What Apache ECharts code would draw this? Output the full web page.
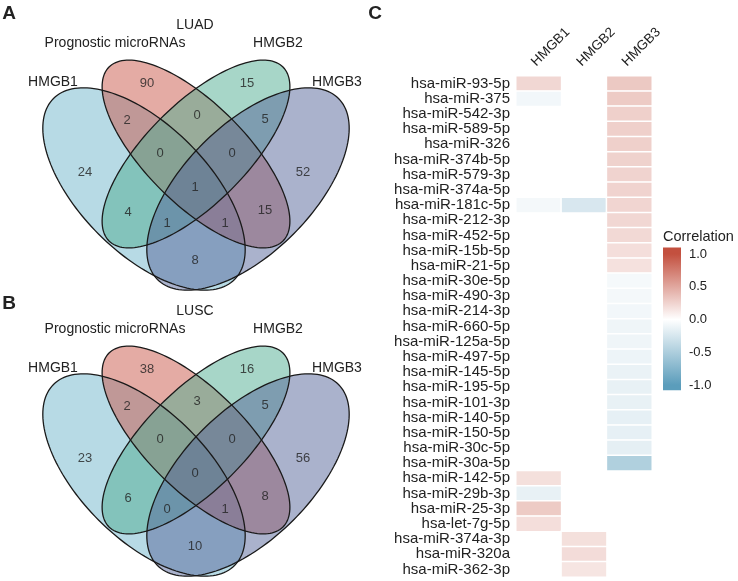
<!DOCTYPE html>
<html>
<head>
<meta charset="utf-8">
<script src="https://cdn.jsdelivr.net/npm/echarts@6/dist/echarts.min.js"></script>
<style>
  html, body { margin: 0; padding: 0; background: #fff; }
  #main { width: 738px; height: 581px; }
</style>
</head>
<body>
<div id="main"></div>
<script>
// Venn counts, region order:
// H1 only, miR only, H2 only, H3 only, H1&miR, miR&H2, H2&H3, H1&miR&H2, miR&H2&H3,
// all four, H1&H2, miR&H3, H1&H2&H3, H1&miR&H3, H1&H3
const luadCounts = [24, 90, 15, 52, 2, 0, 5, 0, 0, 1, 4, 15, 1, 1, 8];
const luscCounts = [23, 38, 16, 56, 2, 3, 5, 0, 0, 0, 6, 8, 0, 1, 10];

// heatmap
const genes = ['HMGB1', 'HMGB2', 'HMGB3'];
const mirnas = [
  'hsa-miR-93-5p', 'hsa-miR-375', 'hsa-miR-542-3p', 'hsa-miR-589-5p', 'hsa-miR-326',
  'hsa-miR-374b-5p', 'hsa-miR-579-3p', 'hsa-miR-374a-5p', 'hsa-miR-181c-5p', 'hsa-miR-212-3p',
  'hsa-miR-452-5p', 'hsa-miR-15b-5p', 'hsa-miR-21-5p', 'hsa-miR-30e-5p', 'hsa-miR-490-3p',
  'hsa-miR-214-3p', 'hsa-miR-660-5p', 'hsa-miR-125a-5p', 'hsa-miR-497-5p', 'hsa-miR-145-5p',
  'hsa-miR-195-5p', 'hsa-miR-101-3p', 'hsa-miR-140-5p', 'hsa-miR-150-5p', 'hsa-miR-30c-5p',
  'hsa-miR-30a-5p', 'hsa-miR-142-5p', 'hsa-miR-29b-3p', 'hsa-miR-25-3p', 'hsa-let-7g-5p',
  'hsa-miR-374a-3p', 'hsa-miR-320a', 'hsa-miR-362-3p'
];
const hmgb1Vals = [0.23, -0.08, null, null, null, null, null, null, -0.07, null,
  null, null, null, null, null, null, null, null, null, null,
  null, null, null, null, null, null, 0.18, -0.14, 0.30, 0.19,
  null, null, null];
const hmgb2Vals = [null, null, null, null, null, null, null, null, -0.24, null,
  null, null, null, null, null, null, null, null, null, null,
  null, null, null, null, null, null, null, null, null, null,
  0.18, 0.20, 0.15];
const hmgb3Vals = [0.31, 0.30, 0.27, 0.27, 0.27, 0.26, 0.25, 0.25, 0.24, 0.23,
  0.22, 0.19, 0.17, -0.06, -0.07, -0.08, -0.10, -0.10, -0.11, -0.13,
  -0.14, -0.14, -0.15, -0.15, -0.16, -0.48, null, null, null, null,
  null, null, null];
const legendTicks = [-1, -0.5, 0, 0.5, 1];

// layout (pixel coords inside a venn panel)
const regionPos = [[85, 172], [147, 83], [247, 83], [303, 172], [127, 120], [197, 115], [265, 119],
  [160, 153], [232, 153], [195, 187], [128, 212], [265, 210], [167, 223], [225, 223], [195, 260]];
const ellipses = [
  { cx: 144, cy: 189, a: 128, b: 64, ang: 45, color: '#6FB5CC' },
  { cx: 196, cy: 154, a: 123, b: 50, ang: 45, color: '#C9574A' },
  { cx: 196, cy: 154, a: 123, b: 50, ang: -45, color: '#4FAE92' },
  { cx: 248, cy: 189, a: 128, b: 64, ang: -45, color: '#56659A' }
];

const LOW = '#5B9DBB', MID = '#FFFFFF', HIGH = '#C3503F';
const FONT = '"Liberation Sans", Arial, sans-serif';
const TXT = '#222';

function ellipsePoly(e, api) {
  const pts = [];
  const th = e.ang * Math.PI / 180;
  for (let k = 0; k < 160; k++) {
    const t = 2 * Math.PI * k / 160;
    const u = e.a * Math.cos(t), v = e.b * Math.sin(t);
    pts.push(api.coord([e.cx + u * Math.cos(th) - v * Math.sin(th),
                        e.cy + u * Math.sin(th) + v * Math.cos(th)]));
  }
  return pts;
}

function vennSeries(idx, counts) {
  return [
    {
      type: 'custom', xAxisIndex: idx, yAxisIndex: idx, z: 1, silent: true,
      data: ellipses.map((e, i) => [i]),
      renderItem: (params, api) => {
        const e = ellipses[params.dataIndex];
        return { type: 'polygon', shape: { points: ellipsePoly(e, api) },
                 style: { fill: e.color, opacity: 0.5 } };
      }
    },
    {
      type: 'custom', xAxisIndex: idx, yAxisIndex: idx, z: 2, silent: true,
      data: ellipses.map((e, i) => [i]),
      renderItem: (params, api) => {
        const e = ellipses[params.dataIndex];
        return { type: 'polygon', shape: { points: ellipsePoly(e, api) },
                 style: { fill: 'none', stroke: '#1a1a1a', lineWidth: 1.3 } };
      }
    },
    {
      type: 'scatter', xAxisIndex: idx, yAxisIndex: idx, z: 3, silent: true,
      symbolSize: 1, itemStyle: { color: 'rgba(0,0,0,0)' },
      data: counts.map((c, i) => [regionPos[i][0], regionPos[i][1], c]),
      label: { show: true, position: 'inside', formatter: p => p.value[2],
               fontSize: 13, color: TXT, fontFamily: FONT }
    }
  ];
}

const heatData = [];
[hmgb1Vals, hmgb2Vals, hmgb3Vals].forEach((vals, j) => {
  vals.forEach((v, i) => { if (v !== null) heatData.push([j, i, v]); });
});

function txt(x, y, s, size, weight) {
  return { type: 'text', x: x, y: y, silent: true,
    style: { text: s, font: (weight || 'normal') + ' ' + size + 'px ' + FONT, fill: TXT,
             textAlign: 'center', textVerticalAlign: 'middle', align: 'center', verticalAlign: 'middle' } };
}
function setLabels(dy, title) {
  return [txt(195, 25 + dy, title, 14), txt(115, 43 + dy, 'Prognostic microRNAs', 14),
    txt(278, 43 + dy, 'HMGB2', 14), txt(53, 82 + dy, 'HMGB1', 14), txt(337, 82 + dy, 'HMGB3', 14)];
}

const vennAxisX = i => ({ gridIndex: i, type: 'value', min: 0, max: 390, show: false });
const vennAxisY = i => ({ gridIndex: i, type: 'value', min: 0, max: 290, inverse: true, show: false });

const chart = echarts.init(document.getElementById('main'), null, { renderer: 'canvas' });
chart.setOption({
  animation: false,
  textStyle: { fontFamily: FONT },
  grid: [
    { left: 0, top: 0, width: 390, height: 290 },
    { left: 0, top: 286, width: 390, height: 290 },
    { left: 516, top: 76, width: 136, height: 501 },
    { left: 663, top: 254, width: 18, height: 131 }
  ],
  xAxis: [
    vennAxisX(0), vennAxisX(1),
    { gridIndex: 2, type: 'category', data: genes, position: 'top',
      axisLine: { show: false }, axisTick: { show: false }, splitLine: { show: false },
      axisLabel: { interval: 0, rotate: -45, fontSize: 13.5, color: TXT, margin: 7,
                   align: 'left', verticalAlign: 'bottom' } },
    { gridIndex: 3, type: 'value', min: 0, max: 1, show: false }
  ],
  yAxis: [
    vennAxisY(0), vennAxisY(1),
    { gridIndex: 2, type: 'category', data: mirnas, inverse: true,
      axisLine: { show: false }, axisTick: { show: false }, splitLine: { show: false },
      axisLabel: { interval: 0, fontSize: 15, color: TXT, margin: 6 } },
    { gridIndex: 3, type: 'value', min: -1, max: 1, interval: 0.5, position: 'right',
      axisLine: { show: false }, splitLine: { show: false },
      axisTick: { show: true, inside: true, length: 4, lineStyle: { color: '#fff', width: 1 } },
      axisLabel: { fontSize: 13, color: TXT, margin: 8, formatter: v => v.toFixed(1) } },
    { gridIndex: 3, type: 'value', min: -1, max: 1, interval: 0.5, position: 'left',
      axisLine: { show: false }, splitLine: { show: false }, axisLabel: { show: false },
      axisTick: { show: true, inside: true, length: 4, lineStyle: { color: '#fff', width: 1 } } }
  ],
  visualMap: {
    type: 'continuous', show: false, min: -1, max: 1, seriesIndex: 6,
    inRange: { color: [LOW, MID, HIGH] }
  },
  graphic: [
    txt(9, 14, 'A', 19, 'bold'), txt(9, 304, 'B', 19, 'bold'), txt(375, 14, 'C', 19, 'bold'),
    ...setLabels(0, 'LUAD'), ...setLabels(286, 'LUSC'),
    { type: 'text', x: 663, y: 237, silent: true,
      style: { text: 'Correlation', font: '14.5px ' + FONT, fill: TXT,
               textAlign: 'left', textVerticalAlign: 'middle', align: 'left', verticalAlign: 'middle' } }
  ],
  series: [
    ...vennSeries(0, luadCounts),
    ...vennSeries(1, luscCounts),
    {
      type: 'heatmap', xAxisIndex: 2, yAxisIndex: 2, data: heatData, silent: true,
      itemStyle: { borderColor: '#fff', borderWidth: 1.5 },
      label: { show: false }
    },
    {
      type: 'custom', xAxisIndex: 3, yAxisIndex: 3, silent: true, z: 1,
      data: [[legendTicks[0]]],
      renderItem: (params, api) => {
        const p1 = api.coord([0, 1.1]);
        const p2 = api.coord([1, -1.08]);
        return {
          type: 'rect',
          shape: { x: p1[0], y: p1[1], width: p2[0] - p1[0], height: p2[1] - p1[1] },
          style: { fill: new echarts.graphic.LinearGradient(0, 0, 0, 1, [
            { offset: 0, color: HIGH }, { offset: 0.046, color: HIGH },
            { offset: 0.505, color: MID },
            { offset: 0.963, color: LOW }, { offset: 1, color: LOW }]) }
        };
      }
    }
  ]
});
</script>
</body>
</html>
